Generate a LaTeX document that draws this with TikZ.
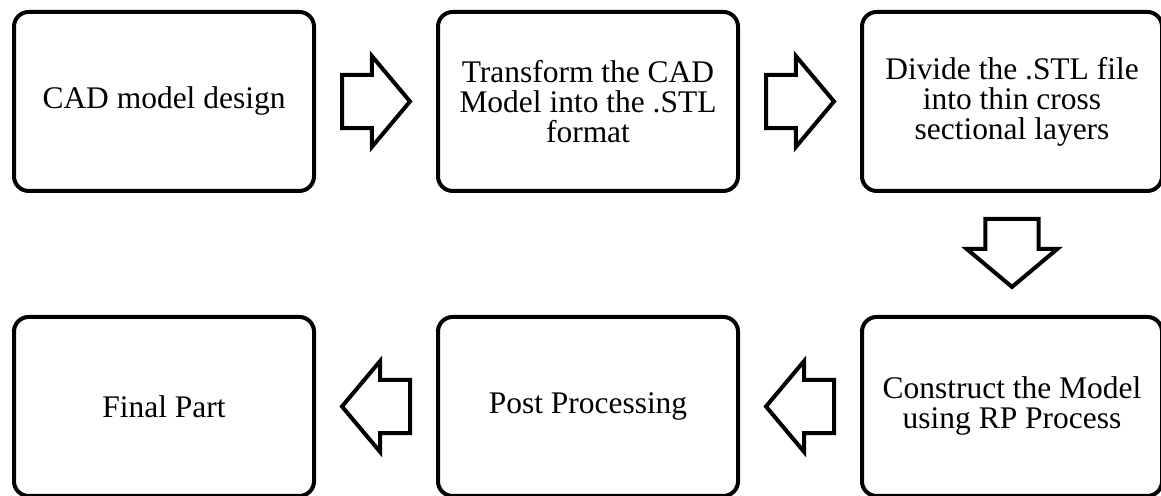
\documentclass[tikz,border=0pt]{standalone}
\usepackage{fontspec}
\setmainfont{Liberation Serif}
\usepackage{tikz}
\usetikzlibrary{positioning, calc, shapes.arrows}
\tikzset{stepbox/.style={draw, line width=3pt, rounded corners=11pt, minimum width=225pt, minimum height=134.25pt, align=center, font=\fontsize{23.6}{22.5}\selectfont}}
\tikzset{blockarrow/.style={draw, single arrow, line width=3pt, inner xsep=0pt, inner ysep=18.4pt, minimum height=51pt, single arrow head extend=14.25pt, single arrow tip angle=100, anchor=tail}}

\begin{document}
\begin{tikzpicture}[node distance=90pt and 90pt]
\useasboundingbox (0,0) rectangle (870.75pt,-372pt);
\node[stepbox] (cad) at (123pt,-76.1pt) {CAD model design};
\node[stepbox, right=of cad] (stl) {Transform the CAD\\Model into the .STL\\format};
\node[stepbox, right=of stl] (slice) {Divide the .STL file\\into thin cross\\sectional layers};
\node[stepbox, below=91.5pt of slice] (build) {Construct the Model\\using RP Process};
\node[stepbox, left=of build] (post) {Post Processing};
\node[stepbox, left=of post] (part) {Final Part};
% block arrows between the steps
\node[blockarrow] (a1) at ($(cad.east)+(18pt,0)$) {};
\node[blockarrow] (a2) at ($(stl.east)+(18pt,0)$) {};
\node[blockarrow, rotate=-90] (a3) at ($(slice.south)+(0,-18pt)$) {};
\node[blockarrow, rotate=180] (a4) at ($(build.west)+(-18pt,0)$) {};
\node[blockarrow, rotate=180] (a5) at ($(post.west)+(-18pt,0)$) {};
\end{tikzpicture}
\end{document}
